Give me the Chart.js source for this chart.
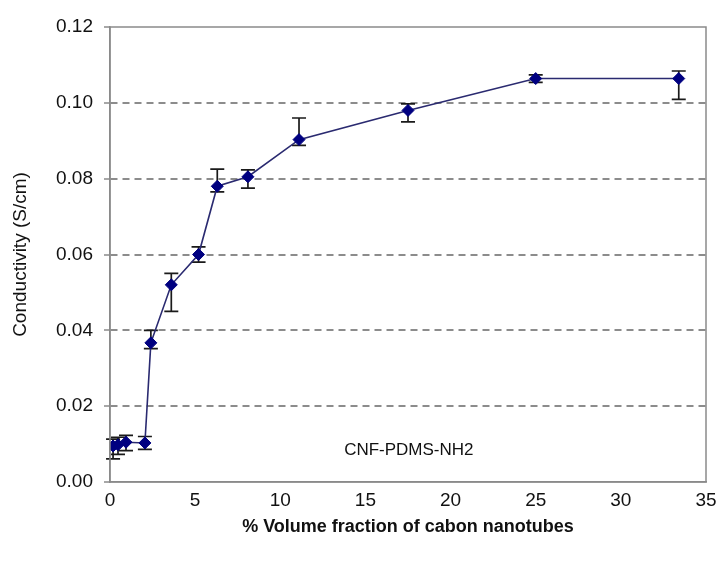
<!DOCTYPE html>
<html>
<head>
<meta charset="utf-8">
<script src="https://cdn.jsdelivr.net/npm/chart.js@4.4.1/dist/chart.umd.min.js"></script>
<style>
  html, body { margin: 0; padding: 0; background: #fff; }
  #wrap { width: 719px; height: 568px; }
</style>
</head>
<body>
<div id="wrap"><canvas id="chart" width="719" height="568"></canvas></div>
<script>
// values
const volumeFraction = [0.18, 0.47, 0.94, 2.05, 2.4, 3.6, 5.2, 6.3, 8.1, 11.1, 17.5, 25, 33.4];
const conductivity = [0.0095, 0.0098, 0.0105, 0.0103, 0.0367, 0.052, 0.060, 0.078, 0.0805, 0.0903, 0.098, 0.1064, 0.1064];
const errorUp = [0.0018, 0.002, 0.0018, 0.0017, 0.0033, 0.003, 0.002, 0.0045, 0.0018, 0.0057, 0.0017, 0.001, 0.002];
const errorDown = [0.0034, 0.0025, 0.0022, 0.0017, 0.0015, 0.007, 0.002, 0.0015, 0.003, 0.0015, 0.003, 0.001, 0.0055];
const xTicks = [0, 5, 10, 15, 20, 25, 30, 35];
const yTicks = [0, 0.02, 0.04, 0.06, 0.08, 0.10, 0.12];
const sampleLabel = 'CNF-PDMS-NH2';

const FONT = "'Liberation Sans', Arial, sans-serif";

// frame round the plot area
const framePlugin = {
  id: 'frame',
  afterDraw(chart) {
    const { ctx, chartArea: a } = chart;
    ctx.save();
    ctx.strokeStyle = '#8a8a8a';
    ctx.lineWidth = 1.5;
    ctx.strokeRect(a.left, a.top, a.right - a.left, a.bottom - a.top);
    ctx.restore();
  }
};

// vertical error bars, drawn under the markers
const errorBarPlugin = {
  id: 'errorBars',
  beforeDatasetsDraw(chart) {
    const { ctx, scales: { x, y } } = chart;
    ctx.save();
    ctx.strokeStyle = '#1a1a1a';
    ctx.lineWidth = 1.7;
    volumeFraction.forEach((v, i) => {
      const px = x.getPixelForValue(v);
      const top = y.getPixelForValue(conductivity[i] + errorUp[i]);
      const bot = y.getPixelForValue(conductivity[i] - errorDown[i]);
      ctx.beginPath();
      ctx.moveTo(px, top); ctx.lineTo(px, bot);
      ctx.moveTo(px - 7, top); ctx.lineTo(px + 7, top);
      ctx.moveTo(px - 7, bot); ctx.lineTo(px + 7, bot);
      ctx.stroke();
    });
    ctx.restore();
  }
};

// sample label inside the plot
const labelPlugin = {
  id: 'sampleLabel',
  afterDraw(chart) {
    const { ctx, scales: { x, y } } = chart;
    ctx.save();
    ctx.font = '17px ' + FONT;
    ctx.fillStyle = '#111';
    ctx.textAlign = 'center';
    ctx.textBaseline = 'middle';
    ctx.fillText(sampleLabel, x.getPixelForValue(17.55), y.getPixelForValue(0.0083));
    ctx.restore();
  }
};

new Chart(document.getElementById('chart'), {
  type: 'scatter',
  data: {
    datasets: [{
      data: volumeFraction.map((v, i) => ({ x: v, y: conductivity[i] })),
      showLine: true,
      borderColor: '#2a2a70',
      borderWidth: 1.6,
      pointStyle: 'rectRot',
      pointRadius: 6,
      pointBackgroundColor: '#000080',
      pointBorderColor: '#000080',
      pointBorderWidth: 1
    }]
  },
  options: {
    responsive: false,
    animation: false,
    layout: { padding: { top: 27, right: 13, left: 0, bottom: 0 } },
    plugins: { legend: { display: false }, tooltip: { enabled: false } },
    scales: {
      x: {
        type: 'linear',
        min: 0, max: 35,
        afterBuildTicks: s => { s.ticks = xTicks.map(v => ({ value: v })); },
        afterFit: s => { s.height = 86; s.paddingLeft = 0; s.paddingRight = 0; },
        grid: { display: false, drawTicks: false },
        border: { display: true, color: '#8a8a8a', width: 1.5 },
        ticks: { color: '#111', font: { family: FONT, size: 19 }, padding: 7, maxRotation: 0 },
        title: {
          display: true,
          text: '% Volume fraction of cabon nanotubes',
          color: '#111',
          font: { family: FONT, size: 18, weight: 'bold' },
          padding: { top: 0, bottom: 30 }
        }
      },
      y: {
        type: 'linear',
        min: 0, max: 0.12,
        afterBuildTicks: s => { s.ticks = yTicks.map(v => ({ value: v })); },
        afterFit: s => { s.width = 110; },
        grid: {
          color: ctx => (ctx.tick && (ctx.tick.value === 0 || Math.abs(ctx.tick.value - 0.12) < 1e-9)) ? 'rgba(0,0,0,0)' : '#8c8c8c',
          lineWidth: 2,
          tickColor: '#8a8a8a',
          tickLength: 6,
          tickWidth: 1.5
        },
        border: { display: true, color: '#8a8a8a', width: 1.5, dash: [7, 5] },
        ticks: {
          color: '#111',
          font: { family: FONT, size: 19 },
          padding: 11,
          callback: v => v.toFixed(2)
        },
        title: {
          display: true,
          text: 'Conductivity (S/cm)',
          color: '#111',
          font: { family: FONT, size: 19 },
          padding: { top: 9, bottom: 0 }
        }
      }
    }
  },
  plugins: [errorBarPlugin, framePlugin, labelPlugin]
});
</script>
</body>
</html>
